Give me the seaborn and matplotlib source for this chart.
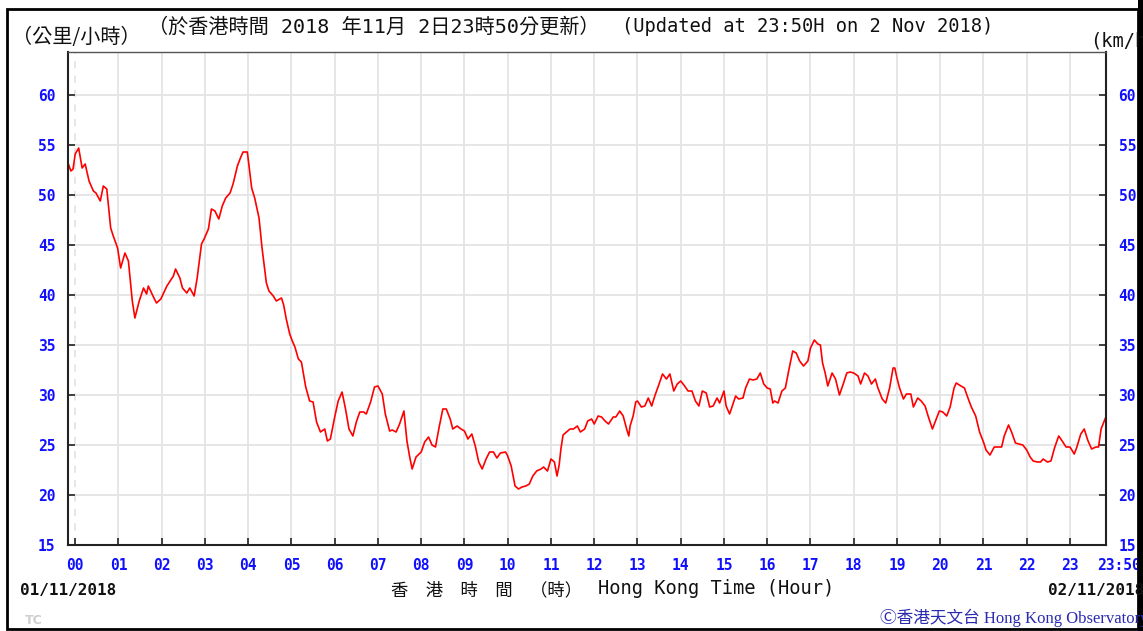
import matplotlib
matplotlib.use("Agg")
import matplotlib.pyplot as plt
import matplotlib.transforms as mtrans
import pandas as pd
import seaborn as sns
from matplotlib.patches import Rectangle

# 10-minute mean wind speed (hours since 00:00 on 02/11, km/h)
TIME_H = [
    -0.167, -0.10, -0.05, 0.00, 0.08, 0.16, 0.23, 0.32, 0.42, 0.48, 0.58, 0.65, 0.73, 0.82, 0.88, 0.98,
    1.05, 1.15, 1.23, 1.32, 1.38, 1.48, 1.58, 1.65, 1.69, 1.82, 1.88, 1.98,
    2.12, 2.15, 2.27, 2.32, 2.42, 2.48, 2.58, 2.65, 2.75, 2.82, 2.92, 2.98,
    3.08, 3.15, 3.23, 3.32, 3.40, 3.48, 3.58, 3.65, 3.75, 3.82, 3.88, 3.98,
    4.08, 4.15, 4.25, 4.32, 4.42, 4.48, 4.58, 4.65, 4.77, 4.82, 4.88, 4.96,
    5.02, 5.08, 5.16, 5.23, 5.33, 5.42, 5.50, 5.58, 5.67, 5.77, 5.83, 5.90,
    6.00, 6.08, 6.17, 6.25, 6.33, 6.42, 6.50, 6.58, 6.67, 6.73, 6.83, 6.92,
    7.00, 7.10, 7.17, 7.27, 7.33, 7.42, 7.50, 7.60, 7.67, 7.73, 7.79, 7.88,
    8.00, 8.08, 8.17, 8.25, 8.33, 8.42, 8.50, 8.58, 8.67, 8.73, 8.83, 8.92,
    9.00, 9.08, 9.17, 9.25, 9.33, 9.41, 9.50, 9.58, 9.67, 9.75, 9.83, 9.95,
    10.00, 10.08, 10.17, 10.25, 10.33, 10.42, 10.50, 10.58, 10.67, 10.77, 10.83, 10.92,
    11.00, 11.08, 11.14, 11.19, 11.23, 11.28, 11.36, 11.44, 11.52, 11.61, 11.68, 11.78, 11.85, 11.94,
    12.00, 12.09, 12.17, 12.25, 12.33, 12.44, 12.50, 12.59, 12.67, 12.75, 12.80, 12.83, 12.90, 12.96,
    13.00, 13.09, 13.17, 13.25, 13.33, 13.40, 13.50, 13.58, 13.67, 13.75, 13.84, 13.92,
    14.00, 14.09, 14.17, 14.26, 14.34, 14.42, 14.50, 14.59, 14.67, 14.75, 14.84, 14.90,
    15.00, 15.05, 15.13, 15.17, 15.27, 15.34, 15.44, 15.50, 15.59, 15.67, 15.76, 15.84, 15.92,
    16.00, 16.07, 16.13, 16.17, 16.25, 16.34, 16.42, 16.50, 16.59, 16.67, 16.75, 16.84, 16.94,
    17.00, 17.09, 17.17, 17.23, 17.28, 17.34, 17.40, 17.50, 17.58, 17.67, 17.75, 17.84, 17.92,
    18.00, 18.10, 18.16, 18.25, 18.33, 18.41, 18.50, 18.56, 18.66, 18.74, 18.83, 18.91, 18.95,
    19.00, 19.06, 19.15, 19.22, 19.32, 19.38, 19.48, 19.56, 19.65, 19.72, 19.82, 19.91, 19.98,
    20.06, 20.15, 20.23, 20.32, 20.37, 20.48, 20.56, 20.65, 20.72, 20.82, 20.91,
    21.00, 21.06, 21.15, 21.25, 21.32, 21.42, 21.48, 21.58, 21.65, 21.74, 21.82, 21.91,
    22.00, 22.08, 22.15, 22.25, 22.32, 22.38, 22.48, 22.56, 22.65, 22.74, 22.82, 22.91,
    23.00, 23.10, 23.16, 23.25, 23.33, 23.41, 23.50, 23.60, 23.66, 23.72, 23.83,
]
WIND_KMH = [
    53.2, 52.4, 52.6, 54.1, 54.7, 52.7, 53.1, 51.4, 50.4, 50.2, 49.4, 50.9, 50.6, 46.7, 45.9, 44.7,
    42.7, 44.2, 43.4, 39.4, 37.7, 39.4, 40.7, 40.1, 40.9, 39.7, 39.2, 39.6,
    40.9, 41.1, 41.9, 42.6, 41.7, 40.7, 40.2, 40.7, 39.9, 41.7, 45.1, 45.6,
    46.6, 48.6, 48.4, 47.6, 48.9, 49.7, 50.2, 51.1, 52.9, 53.7, 54.3, 54.3,
    50.7, 49.7, 47.7, 44.7, 41.2, 40.4, 39.9, 39.4, 39.7, 39.0, 37.6, 36.1,
    35.4, 34.8, 33.6, 33.3, 30.8, 29.4, 29.3, 27.3, 26.3, 26.6, 25.4, 25.6,
    27.8, 29.4, 30.3, 28.6, 26.6, 25.9, 27.3, 28.3, 28.3, 28.1, 29.3, 30.8,
    30.9, 30.1, 28.1, 26.4, 26.5, 26.3, 27.1, 28.4, 25.4, 23.9, 22.6, 23.8,
    24.3, 25.3, 25.8, 25.0, 24.8, 26.9, 28.6, 28.6, 27.6, 26.6, 26.9, 26.6,
    26.4, 25.6, 26.1, 24.9, 23.3, 22.6, 23.6, 24.3, 24.3, 23.7, 24.2, 24.3,
    23.9, 22.9, 20.9, 20.6, 20.8, 20.9, 21.1, 21.9, 22.4, 22.6, 22.8, 22.4,
    23.6, 23.3, 21.9, 23.0, 24.6, 26.0, 26.3, 26.6, 26.6, 26.9, 26.3, 26.6, 27.4, 27.6,
    27.1, 27.9, 27.8, 27.4, 27.1, 27.8, 27.8, 28.4, 27.9, 26.6, 25.9, 26.9, 27.9, 29.3,
    29.4, 28.8, 28.9, 29.7, 28.9, 29.9, 31.1, 32.1, 31.6, 32.1, 30.4, 31.1,
    31.4, 30.9, 30.4, 30.4, 29.4, 28.9, 30.4, 30.2, 28.8, 28.9, 29.7, 29.2,
    30.4, 28.9, 28.1, 28.6, 29.9, 29.6, 29.7, 30.7, 31.6, 31.5, 31.6, 32.2, 31.1,
    30.7, 30.6, 29.2, 29.4, 29.2, 30.4, 30.7, 32.5, 34.4, 34.2, 33.4, 32.9, 33.4,
    34.7, 35.5, 35.1, 35.0, 33.2, 32.2, 30.9, 32.2, 31.6, 30.0, 31.0, 32.2, 32.3,
    32.2, 31.9, 31.1, 32.2, 31.9, 31.1, 31.6, 30.7, 29.6, 29.2, 30.7, 32.7, 32.7,
    31.7, 30.7, 29.6, 30.1, 30.1, 28.8, 29.7, 29.4, 28.9, 27.9, 26.6, 27.6, 28.4,
    28.3, 27.9, 28.8, 30.7, 31.2, 30.9, 30.7, 29.6, 28.8, 27.9, 26.3,
    25.3, 24.5, 24.0, 24.8, 24.8, 24.8, 25.9, 27.0, 26.3, 25.2, 25.1, 25.0,
    24.5, 23.8, 23.4, 23.3, 23.3, 23.6, 23.3, 23.4, 24.8, 25.9, 25.4, 24.8,
    24.8, 24.1, 24.8, 26.1, 26.6, 25.5, 24.6, 24.8, 24.8, 26.6, 27.8,
]

HOUR_TICKS = list(range(24)) + [23 + 50 / 60]
HOUR_LABELS = [f"{h:02d}" for h in range(24)] + ["23:50"]
SPEED_TICKS = list(range(15, 61, 5))

BLUE = "#1010ff"
W, H = 1143, 631

sns.set_style("white")
MONO = ["DejaVu Sans Mono", "Noto Sans CJK TC"]
CJK = ["Noto Sans CJK TC", "DejaVu Sans Mono"]
plt.rcParams["font.family"] = MONO

df = pd.DataFrame({"hour": TIME_H, "kmh": WIND_KMH})

fig = plt.figure(figsize=(W / 100, H / 100), dpi=100)
ax = fig.add_axes([68 / W, (H - 545) / H, (1106 - 68) / W, (545 - 52) / H])

sns.lineplot(data=df, x="hour", y="kmh", ax=ax, color="#ff0000", linewidth=1.2)

ax.set_xlim(-10 / 60, 23 + 50 / 60)
ax.set_ylim(15, 64.3)
ax.set_xlabel("")
ax.set_ylabel("")

ax.set_xticks(HOUR_TICKS)
ax.set_xticklabels(HOUR_LABELS)
ax.set_yticks(SPEED_TICKS)

ax.grid(True, color="#e4e4e4", linewidth=1.3)
ax.set_axisbelow(True)
# midnight line is drawn dashed on the HKO charts
ax.get_xgridlines()[0].set_linestyle((0, (4, 4)))

ax.tick_params(axis="y", direction="in", length=5, width=1.2, color="#222222",
               left=True, right=True, labelleft=True, labelright=True, pad=9,
               labelsize=10.5, labelcolor=BLUE)
ax.tick_params(axis="x", direction="in", length=5, width=1.2, color="#222222",
               bottom=True, pad=9, labelsize=10.5, labelcolor=BLUE)
for t in ax.xaxis.get_major_ticks() + ax.yaxis.get_major_ticks():
    t.label1.set_fontweight("bold")
    t.label2.set_fontweight("bold")

# the last "23:50" label sits to the right of its tick
last = ax.get_xticklabels()[-1]
last.set_horizontalalignment("left")
last.set_transform(last.get_transform() + mtrans.ScaledTranslation(-9 / 100, 0, fig.dpi_scale_trans))

for side in ["left", "bottom", "right"]:
    ax.spines[side].set_color("#222222")
    ax.spines[side].set_linewidth(1.5)
ax.spines["top"].set_color("#555555")
ax.spines["top"].set_linewidth(1.0)


def px(x, y):
    return x / W, 1 - y / H


fig.text(*px(12, 37), "（公里/小時）", fontsize=14.5, family=CJK,
         va="center", ha="left", color="#111111")
fig.text(*px(148, 27), "（於香港時間 2018 年11月 2日23時50分更新）", fontsize=14.5, family=MONO,
         va="center", ha="left", color="#111111")
fig.text(*px(622, 27), "(Updated at 23:50H on 2 Nov 2018)", fontsize=13.5, family=MONO,
         va="center", ha="left", color="#111111")
fig.text(*px(1090, 41), "(km/h)", fontsize=13.5, family=MONO, va="center", ha="left", color="#111111")

fig.text(*px(20, 590), "01/11/2018", fontsize=11.5, fontweight="bold", family=MONO,
         va="center", ha="left", color="#111111")
fig.text(*px(1048, 590), "02/11/2018", fontsize=11.5, fontweight="bold", family=MONO,
         va="center", ha="left", color="#111111")
fig.text(*px(391, 590), "香\u3000港\u3000時\u3000間\u3000（時）", fontsize=12.5, family=CJK,
         va="center", ha="left", color="#111111")
fig.text(*px(598, 588), "Hong Kong Time (Hour)", fontsize=13.5, family=MONO,
         va="center", ha="left", color="#111111")
fig.text(*px(880, 618), "Ⓒ香港天文台 Hong Kong Observatory", fontsize=12,
         family=["Liberation Serif", "Noto Sans CJK TC", "DejaVu Sans"],
         va="center", ha="left", color="#2a2ab0")
fig.text(*px(25, 621), "TC", fontsize=9, fontweight="bold", family="DejaVu Sans",
         va="center", ha="left", color="#cfcfcf")

# outer frame of the image, the right edge is a thick dark bar
fig.patches.append(Rectangle(px(7, 629), (1138 - 7) / W, (629 - 9) / H, transform=fig.transFigure,
                             fill=False, edgecolor="black", linewidth=2.0))
fig.patches.append(Rectangle(px(1138, 631), 5 / W, 1, transform=fig.transFigure,
                             facecolor="black", edgecolor="none"))

fig.savefig("out.png", dpi=100)
